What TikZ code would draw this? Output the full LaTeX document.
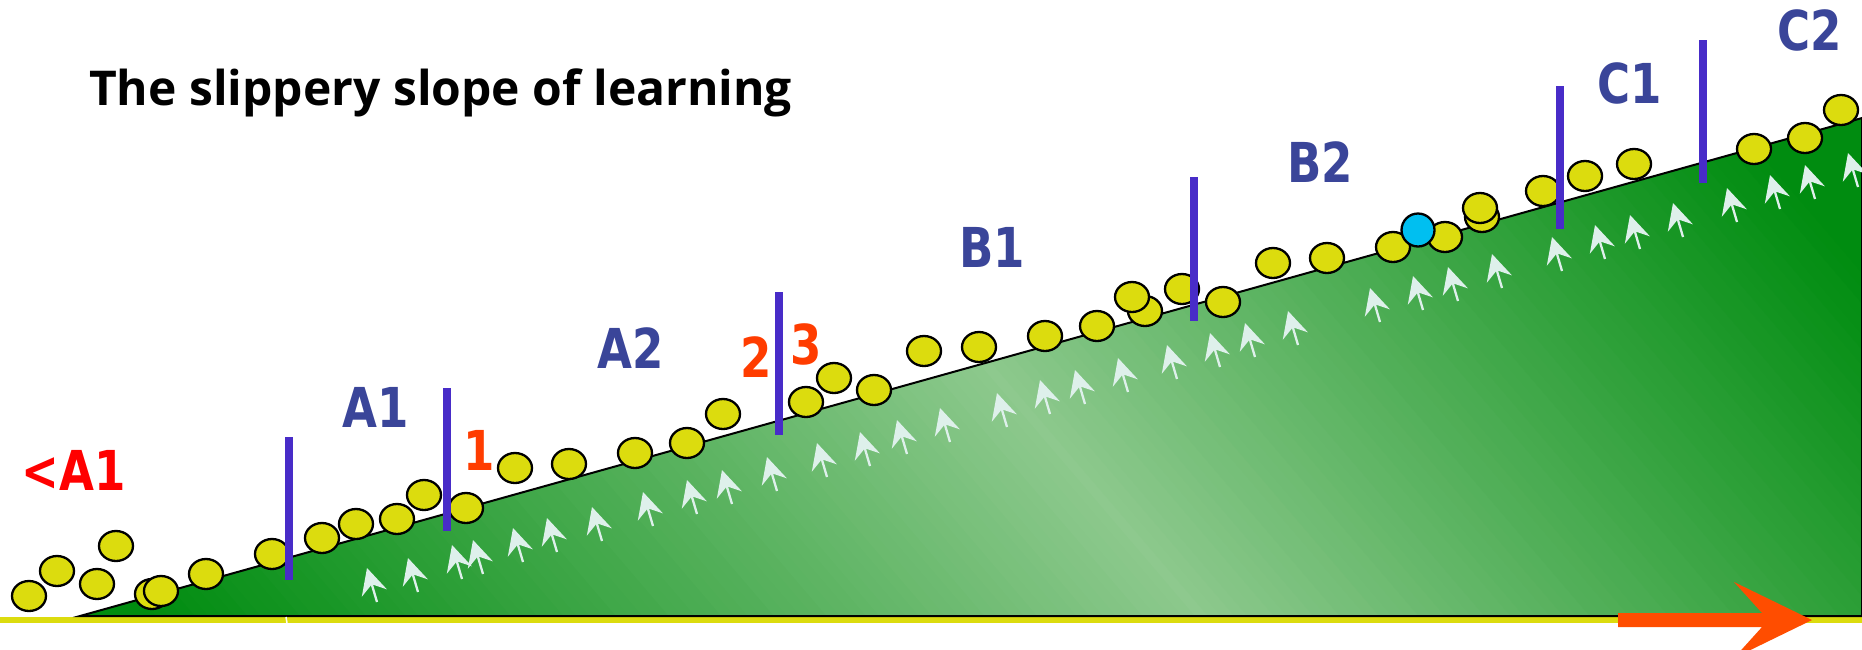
\documentclass[tikz,border=0pt]{standalone}
\usepackage{fontspec}
\usetikzlibrary{arrows.meta}
\newfontfamily\titlefont{Open Sans}
\newfontfamily\labfont{DejaVu Sans}[FakeStretch=0.82]
\definecolor{ylw}{RGB}{220,220,14}
\definecolor{dk}{RGB}{0,140,16}
\definecolor{lt}{RGB}{142,201,142}
\definecolor{vio}{RGB}{72,44,200}
\definecolor{lblue}{RGB}{58,69,153}
\definecolor{orn}{RGB}{255,60,0}
\definecolor{arrw}{RGB}{222,240,235}
\definecolor{cyanb}{RGB}{0,191,240}
\definecolor{bigarrow}{RGB}{255,77,0}
\tikzset{
  ball/.style={fill=ylw, draw=black, line width=2.3pt},
  vbar/.style={draw=vio, line width=8pt},
  larrow/.style={draw=arrw, line width=2.3pt, -{Stealth[length=26pt,width=26pt,inset=9pt]}},
  lab/.style={font=\labfont\bfseries\fontsize{55}{60}\selectfont, anchor=base, inner sep=0pt},
}
\begin{document}
\begin{tikzpicture}[x=1pt,y=-1pt]
\useasboundingbox (0,0) rectangle (1862,649);
% ground line
\draw[draw=ylw, line width=6pt] (0,620) -- (1862,620);
% gradient slope
\begin{scope}
  \clip (80,616) -- (1862,118) -- (1862,616) -- cycle;
  \foreach \s in {-1000,-990,...,1000}{
    \pgfmathsetmacro\t{\s+11}
    \pgfmathtruncatemacro\pc{\s<0 ? max(0,100*(1+\s/800)) : max(0,100*(1-\s/730))}
    \fill[lt!\pc!dk] (1053+0.76*\s-910, 450-0.65*\s-1064) -- (1053+0.76*\t-910, 450-0.65*\t-1064) -- (1053+0.76*\t+910, 450-0.65*\t+1064) -- (1053+0.76*\s+910, 450-0.65*\s+1064) -- cycle;
  }
\end{scope}
\draw[black, line width=2pt, line join=miter] (80,616) -- (1862,118) -- (1862,616) -- cycle;
\draw[white, line width=1.5pt] (286,617) -- (287,623);
% small arrows
\foreach \x/\y in {367/568,408/558,452/545,473/540,513/528,547/518,592/507,643/492,687/480,722/470,767/457,817/443,860/432,897/420,940/408,997/393,1040/380,1075/370,1118/358,1167/345,1210/333,1245/323,1288/311,1370/288,1413/276,1448/267,1492/254,1552/237,1595/225,1630/215,1673/203,1727/188,1770/175,1805/165,1848/153}{
  \draw[larrow] (\x+10,\y+34) -- (\x,\y);
}
% balls
\foreach \x/\y in {29/596,57/571,97/584,116/546,152/594,161/591,206/574,272/554,322/538,356/524,397/519,424/495,466/508,515/468,569/464,635/453,687/443,723/414,806/402,834/378,874/390,924/351,979/347,1045/336,1097/326,1145/311,1132/297,1182/289,1223/302,1273/263,1327/258,1393/247,1445/237,1482/217,1480/208,1543/191,1585/176,1634/164,1754/149,1805/138,1841/110}{
  \draw[ball] (\x,\y) ellipse [x radius=17, y radius=15];
}
\draw[fill=cyanb, draw=black, line width=2.3pt] (1418,230) circle [radius=16.5];
% level bars
\draw[vbar] (289,437) -- (289,580);
\draw[vbar] (447,388) -- (447,531);
\draw[vbar] (779,292) -- (779,435);
\draw[vbar] (1194,177) -- (1194,321);
\draw[vbar] (1560,86) -- (1560,229);
\draw[vbar] (1703,40) -- (1703,183);
% labels
\node[lab, text=red] (lA0) at (74,490) {<A1};
\node[lab, text=lblue] (lA1) at (376,427) {A1};
\node[lab, text=lblue] (lA2) at (631,368) {A2};
\node[lab, text=lblue] (lB1) at (992,267) {B1};
\node[lab, text=lblue] (lB2) at (1320,182) {B2};
\node[lab, text=lblue] (lC1) at (1630,103) {C1};
\node[lab, text=lblue] (lC2) at (1810,50) {C2};
\node[lab, text=orn] (n1) at (479,470) {1};
\node[lab, text=orn] (n2) at (756,377) {2};
\node[lab, text=orn] (n3) at (806,364) {3};
\node[font=\titlefont\bfseries\fontsize{48}{54}\selectfont, anchor=base west, inner sep=0pt] (title) at (89,105) {The slippery slope of learning};
% big orange arrow
\fill[bigarrow] (1618,613) -- (1762,613) -- (1734,582) -- (1812,620) -- (1734,658) -- (1762,627) -- (1618,627) -- cycle;
\end{tikzpicture}
\end{document}
